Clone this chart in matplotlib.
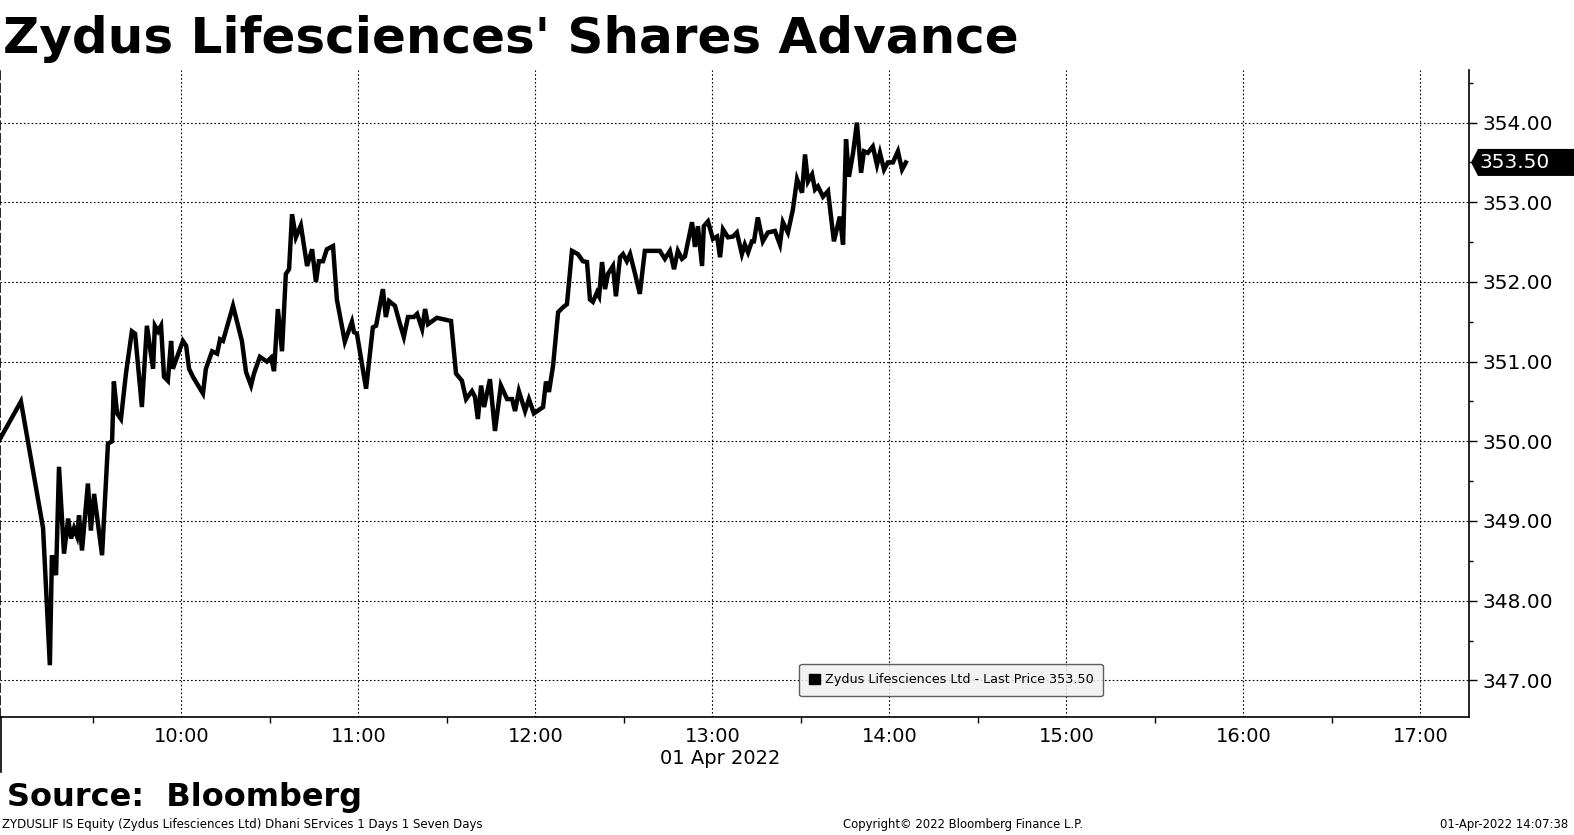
import numpy as np
import pandas as pd
import matplotlib
matplotlib.use("Agg")
import matplotlib.pyplot as plt
import matplotlib.dates as mdates
import matplotlib.transforms as mtransforms
from matplotlib.ticker import MultipleLocator, FormatStrFormatter
from matplotlib.patches import Polygon, Patch
from matplotlib.lines import Line2D

plt.rcParams["font.family"] = "DejaVu Sans"

TITLE = "Zydus Lifesciences' Shares Advance"
SOURCE = "Source:  Bloomberg"
FOOT_LEFT = "ZYDUSLIF IS Equity (Zydus Lifesciences Ltd) Dhani SErvices 1 Days 1 Seven Days"
FOOT_MID = "Copyright\u00a9 2022 Bloomberg Finance L.P."
FOOT_RIGHT = "01-Apr-2022 14:07:38"
DATE_LABEL = "01 Apr 2022"
SERIES_LABEL = "Zydus Lifesciences Ltd - Last Price 353.50"

SESSION_START = "2022-04-01 08:58:30"
SESSION_END = "2022-04-01 17:16:30"

# minutes after the first print
minutes = [
    0.0, 7.1, 14.6, 16.9, 17.6, 19.0, 20.0, 21.7, 23.1, 24.1, 25.1, 26.1,
    26.8, 27.8, 29.8, 30.8, 31.9, 34.6, 36.6, 38.0, 38.6, 39.7, 41.0, 42.7,
    44.7, 45.8, 48.1, 49.8, 51.9, 52.5, 53.6, 54.6, 55.6, 56.9, 58.0, 58.6,
    62.0, 63.1, 64.1, 65.4, 67.8, 68.8, 69.8, 71.9, 73.6, 74.6, 75.6, 79.0,
    82.0, 83.4, 85.1, 86.1, 88.1, 90.5, 91.9, 92.9, 94.2, 95.6, 96.9, 98.0,
    99.0, 100.3, 102.0, 104.1, 105.8, 107.1, 108.1, 109.5, 110.8, 112.9,
    114.2, 116.9, 119.3, 120.0, 121.0, 124.1, 126.4, 127.5, 129.8, 130.8,
    131.9, 133.9, 135.6, 136.9, 138.3, 140.3, 141.4, 143.1, 144.1, 145.1,
    148.1, 152.9, 154.6, 156.6, 158.0, 160.0, 161.0, 162.0, 163.1, 164.1,
    166.1, 167.8, 169.8, 171.9, 173.6, 174.6, 175.9, 178.0, 179.3, 181.0,
    184.1, 185.1, 186.1, 187.5, 189.2, 190.8, 192.2, 193.9, 195.9, 197.6,
    199.0, 200.0, 201.0, 202.4, 203.1, 204.1, 205.1, 206.1, 207.8, 208.8,
    210.2, 211.2, 212.5, 213.6, 215.3, 216.9, 218.6, 223.7, 225.4, 227.1,
    228.5, 229.8, 231.2, 232.2, 233.2, 234.6, 235.6, 236.6, 238.0, 238.6,
    240.0, 241.7, 243.1, 244.1, 245.1, 246.8, 248.5, 249.8, 251.5, 252.5,
    253.6, 254.9, 255.6, 256.9, 258.6, 260.3, 262.7, 264.4, 265.4, 267.1,
    268.8, 270.2, 271.9, 272.9, 273.9, 275.3, 276.3, 277.3, 279.0, 280.7,
    282.7, 284.7, 285.8, 286.8, 287.8, 289.2, 290.5, 291.9, 292.9, 294.2,
    295.9, 297.3, 298.3, 299.7, 301.0, 302.7, 304.4, 305.8, 307.1,
]

prices = [
    350.03, 350.50, 348.91, 347.19, 348.57, 348.32, 349.68, 348.59, 349.03,
    348.78, 348.91, 348.81, 349.07, 348.63, 349.47, 348.88, 349.34, 348.57,
    349.97, 350.00, 350.75, 350.35, 350.28, 350.85, 351.38, 351.35, 350.43,
    351.45, 350.91, 351.45, 351.38, 351.45, 350.81, 350.76, 351.26, 350.91,
    351.26, 351.20, 350.91, 350.81, 350.66, 350.60, 350.91, 351.13, 351.10,
    351.28, 351.26, 351.70, 351.26, 350.87, 350.70, 350.85, 351.06, 351.00,
    351.05, 350.88, 351.66, 351.13, 352.10, 352.16, 352.85, 352.56, 352.71,
    352.20, 352.41, 352.00, 352.26, 352.26, 352.41, 352.45, 351.78, 351.25,
    351.50, 351.37, 351.35, 350.66, 351.43, 351.45, 351.91, 351.56, 351.76,
    351.70, 351.47, 351.31, 351.56, 351.56, 351.60, 351.41, 351.66, 351.47,
    351.55, 351.51, 350.85, 350.76, 350.53, 350.63, 350.56, 350.28, 350.70,
    350.43, 350.78, 350.13, 350.70, 350.53, 350.53, 350.38, 350.63, 350.38,
    350.53, 350.35, 350.43, 350.75, 350.62, 350.95, 351.62, 351.68, 351.72,
    352.39, 352.35, 352.26, 352.25, 351.78, 351.75, 351.87, 351.82, 352.25,
    351.91, 352.10, 352.20, 351.82, 352.31, 352.35, 352.26, 352.35, 352.10,
    351.85, 352.39, 352.39, 352.29, 352.39, 352.16, 352.39, 352.29, 352.32,
    352.50, 352.75, 352.44, 352.70, 352.20, 352.70, 352.76, 352.54, 352.57,
    352.31, 352.66, 352.56, 352.57, 352.62, 352.35, 352.47, 352.37, 352.51,
    352.51, 352.81, 352.51, 352.62, 352.64, 352.47, 352.75, 352.62, 352.91,
    353.29, 353.12, 353.60, 353.26, 353.35, 353.16, 353.20, 353.07, 353.14,
    352.51, 352.82, 352.47, 353.79, 353.32, 353.62, 354.00, 353.37, 353.64,
    353.62, 353.70, 353.47, 353.62, 353.41, 353.50, 353.50, 353.64, 353.41,
    353.50,
]

last_price = 353.50
price_ticks = [347, 348, 349, 350, 351, 352, 353, 354]
y_range = (346.54, 354.66)

W, H = 1574, 835


def px(x, y):
    # pixel position (from top left) -> figure fraction
    return x / W, 1 - y / H


fig = plt.figure(figsize=(W / 100, H / 100), dpi=100, facecolor="white")
x0, y_top = px(0, 70)
x1, y_bot = px(1469, 717)
ax = fig.add_axes([x0, y_bot, x1 - x0, y_top - y_bot])

times = pd.Timestamp(SESSION_START) + pd.to_timedelta(minutes, unit="min")
ax.plot(times, prices, color="black", linewidth=3.2, solid_joinstyle="miter",
        zorder=3)

ax.set_xlim(pd.Timestamp(SESSION_START), pd.Timestamp(SESSION_END))
ax.set_ylim(*y_range)

# x axis
ax.xaxis.set_major_locator(mdates.HourLocator(byhour=range(10, 18)))
ax.xaxis.set_minor_locator(mdates.MinuteLocator(byminute=[30]))
ax.xaxis.set_major_formatter(mdates.DateFormatter("%H:%M"))
ax.tick_params(axis="x", which="major", length=0, pad=7, labelsize=14,
               colors="black")
ax.tick_params(axis="x", which="minor", length=4, width=1, color="black")

# y axis on the right
ax.yaxis.tick_right()
ax.set_yticks(price_ticks)
ax.yaxis.set_minor_locator(MultipleLocator(0.5))
ax.yaxis.set_major_formatter(FormatStrFormatter("%.2f"))
ax.tick_params(axis="y", which="major", length=6, width=1, pad=4,
               labelsize=14.5, colors="black")
ax.tick_params(axis="y", which="minor", length=3, width=1, color="black")

ax.grid(True, which="major", color="black", linestyle=(0, (1.5, 2)),
        linewidth=0.8)
ax.set_axisbelow(True)

ax.spines["top"].set_visible(False)
ax.spines["left"].set_linestyle((0, (5, 2.5)))
ax.spines["left"].set_linewidth(1.2)
for s in ("right", "bottom"):
    ax.spines[s].set_linewidth(1.2)
    ax.spines[s].set_color("black")

# left boundary continues under the axis
fig.add_artist(Line2D([0.0005, 0.0005], [px(0, 717)[1], px(0, 772)[1]],
                      color="black", linewidth=1.2,
                      transform=fig.transFigure))

# last price tag on the right axis
anchor = mtransforms.blended_transform_factory(ax.transAxes, ax.transData)
tag_trans = fig.dpi_scale_trans + mtransforms.ScaledTranslation(
    1.0, last_price, anchor)
tag = Polygon([[0.02, 0], [0.09, 0.135], [1.10, 0.135], [1.10, -0.135],
               [0.09, -0.135]], closed=True, facecolor="black",
              edgecolor="none", transform=tag_trans, clip_on=False, zorder=5)
ax.add_patch(tag)
ax.text(0.10, 0.0, f"{last_price:.2f}", color="white", fontsize=14.5,
        ha="left", va="center", transform=tag_trans, zorder=6)

# legend
ax.legend(handles=[Patch(facecolor="black", edgecolor="black",
                         label=SERIES_LABEL)],
          loc="center", bbox_to_anchor=px(951, 680),
          bbox_transform=fig.transFigure, fontsize=9.2, frameon=True,
          fancybox=True, facecolor="#f0f0f0", edgecolor="#444444",
          framealpha=0.85, handlelength=0.9, handleheight=0.9,
          handletextpad=0.35, borderpad=0.75, borderaxespad=0)

# text around the chart
fig.text(*px(3, 53), TITLE, fontsize=36, fontweight="bold", ha="left",
         va="baseline")
fig.text(*px(720, 759), DATE_LABEL, fontsize=14, ha="center",
         va="center")
fig.text(*px(7, 806), SOURCE, fontsize=23, fontweight="bold", ha="left",
         va="baseline")
fig.text(*px(2, 828), FOOT_LEFT, fontsize=8.5, ha="left", va="baseline")
fig.text(*px(963, 828), FOOT_MID, fontsize=8.4, ha="center", va="baseline")
fig.text(*px(1568, 828), FOOT_RIGHT, fontsize=8.4, ha="right",
         va="baseline")

fig.savefig("out.png", dpi=100, facecolor="white")
plt.close(fig)
